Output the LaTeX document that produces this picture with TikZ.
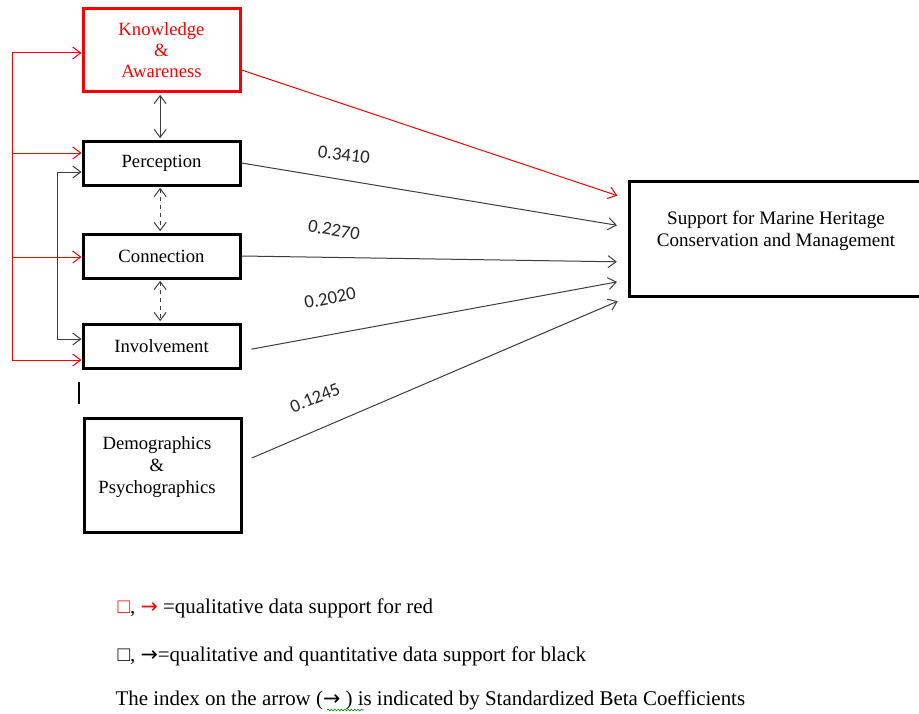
\documentclass[tikz,border=0pt]{standalone}
\usepackage{fontspec}
\setmainfont{Liberation Serif}
\newfontfamily\calibri{Carlito}
\newfontfamily\arrowfont{DejaVu Sans}
\usepackage{xcolor}
\usetikzlibrary{arrows.meta,decorations.pathmorphing}

\definecolor{arrowgray}{RGB}{60,60,60}
\newcommand{\rarr}{{\arrowfont\fontsize{15.5}{18}\selectfont →}}

\begin{document}
\begin{tikzpicture}[
            x = 0.75pt, y = -0.75pt, % one unit = one pixel
            > = {Straight Barb[length=6pt,width=9pt]}, % arrow head style
            line width = 0.75pt, % line style
            box/.style = {shape=rectangle, draw=black, line width=2.25pt, minimum width=117.75pt,
                          minimum height=33pt, inner sep=0pt, align=center,
                          font=\fontsize{14}{15.75}\selectfont},
            coef/.style = {font=\calibri\fontsize{14}{16}\selectfont, text=black!85},
            legend/.style = {anchor=base west, inner sep=0pt, font=\fontsize{15.7}{18}\selectfont}
        ]
\useasboundingbox (0,0) rectangle (919,713);

% boxes on the left
\node[box,draw=red,text=red,minimum height=62.25pt] (K) at (161.5,50.5) {Knowledge\\\&\\Awareness};
\node[box] (P) at (161.5,163) {Perception};
\node[box] (C) at (161.5,256) {Connection};
\node[box] (I) at (161.5,346) {Involvement};
\node[box,minimum height=85.5pt] (D) at (162.5,475) {};
\node[align=center,font=\fontsize{14}{16.5}\selectfont] (Dtext) at (157,467) {Demographics\\\&\\Psychographics};

% outcome box
\node[box,minimum width=222pt,minimum height=86.25pt] (S) at (777,238.5) {};
\node[align=center,font=\fontsize{14.3}{16.5}\selectfont] (Stext) at (776,231) {Support for Marine Heritage\\Conservation and Management};

% red feed lines
\coordinate (r1) at (12,53);
\coordinate (r2) at (12,153);
\coordinate (r3) at (12,257);
\coordinate (r4) at (12,360);
\draw[red] (r1) -- (r4);
\draw[red,->] (r1) -- (r1 -| K.west);
\draw[red,->] (r2) -- (r2 -| P.west);
\draw[red,->] (r3) -- (r3 -| C.west);
\draw[red,->] (r4) -- (r4 -| I.west);

% black bracket
\coordinate (b1) at (57,172);
\coordinate (b2) at (57,339);
\draw[arrowgray,<->] (b1 -| P.west) -- (b1) -- (b2) -- (b2 -| I.west);

% links between the boxes
\path [<->, color=arrowgray, shorten <=1pt, shorten >=1pt] ([xshift=-1pt]K.south) edge ([xshift=-1pt]P.north);
\path [<->, color=arrowgray, dashed, shorten <=1pt, shorten >=1pt] ([xshift=-1pt]P.south) edge ([xshift=-1pt]C.north);
\path [<->, color=arrowgray, dashed, shorten <=1pt, shorten >=1pt] ([xshift=-1pt]C.south) edge ([xshift=-1pt]I.north);

% paths to the outcome
\path [->, color=red, shorten >=8pt] ([yshift=-14.6pt]K.east) edge ([yshift=29.6pt]S.west);
\path [->, color=arrowgray, shorten >=8pt] (P.east) edge ([yshift=8.6pt]S.west);
\path [->, color=arrowgray, shorten >=8pt] (C.east) edge ([yshift=-17.6pt]S.west);
\path [->, color=arrowgray, shorten <=7.5pt, shorten >=8pt] ([yshift=-3.75pt]I.east) edge ([yshift=-31.1pt]S.west);
\path [->, color=arrowgray, shorten <=7.5pt, shorten >=8pt] ([yshift=9.75pt]D.east) edge ([yshift=-43.9pt]S.west);

% coefficients
\node[coef,rotate=-7] (c1) at (344,155) {0.3410};
\node[coef,rotate=-10] (c2) at (334,230) {0.2270};
\node[coef,rotate=11] (c3) at (330,298) {0.2020};
\node[coef,rotate=22] (c4) at (315,398) {0.1245};

% stray mark
\draw[line width=1.5pt] (79,382) -- (79,404);

% legend
\node[legend] (L1) at (117,613) {{\color{red}□}, {\color{red}\rarr} =qualitative data support for red};
\node[legend] (L2) at (117,661) {□, \rarr=qualitative and quantitative data support for black};
\node[legend] (L3) at (115,705) {The index on the arrow (\rarr\ ) is indicated by Standardized Beta Coefficients};
\draw[green!60!black, line width=0.5pt, decorate, decoration={snake, amplitude=0.6pt, segment length=2.5pt}] (327,710) -- (364,710);

\end{tikzpicture}
\end{document}
